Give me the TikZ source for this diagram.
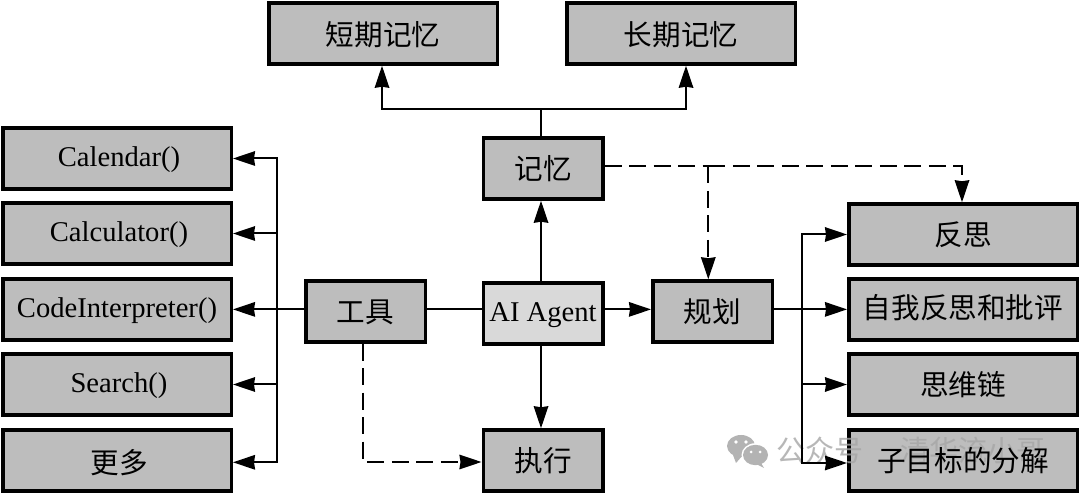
\documentclass[tikz,border=0pt]{standalone}
\usepackage{fontspec}
\setmainfont{Liberation Serif}
\newfontfamily\cjk{Noto Sans CJK SC}
\usetikzlibrary{arrows.meta,calc}
\definecolor{boxgray}{HTML}{BDBDBD}
\definecolor{lightbox}{HTML}{D9D9D9}
\definecolor{markgray}{HTML}{A6A6A6}
\tikzset{
  wide/.style={draw=black,line width=3.5pt,fill=boxgray,minimum width=228.5pt,minimum height=61pt,inner sep=0pt,font=\fontsize{28.6}{31}\selectfont,text height=19pt,text depth=2pt},
  short/.style={wide,minimum width=119.5pt},
  cjkwide/.style={wide,font=\cjk\fontsize{28.6}{31}\selectfont,text height=#1,text depth=2pt},
  cjkwide/.default=24pt,
  cjkshort/.style={cjkwide=#1,minimum width=119.5pt},
  cjkshort/.default=24pt,
  cjktext/.style={font=\cjk\fontsize{28.6}{31}\selectfont,inner sep=0pt,text height=24pt,text depth=2pt},
  conn/.style={line width=2pt,-{Stealth[length=22pt,width=14.5pt,inset=1pt]}},
  plain/.style={line width=2pt},
  dashconn/.style={conn,dash pattern=on 17pt off 7.5pt},
  dashplain/.style={plain,dash pattern=on 17pt off 7.5pt},
  markstyle/.style={text=markgray,font=\cjk\fontsize{29}{31}\selectfont,anchor=west,inner sep=0pt,opacity=.8}
}
\begin{document}
\begin{tikzpicture}[x=1pt,y=-1pt]
\useasboundingbox (0,0) rectangle (1080,494);
\fill[white] (0,0) rectangle (1080,494);
% boxes
\node[cjkwide=27pt] (stm) at (383,33.5) {短期记忆};
\node[cjkwide=27pt] (ltm) at (681,33.5) {长期记忆};
\node[cjkshort] (mem) at (543,168.5) {记忆};
\node[wide] (cal) at (117,158.5) {\hspace*{4pt}Calendar()};
\node[wide] (calc) at (117,233.5) {\hspace*{4pt}Calculator()};
\node[wide] (code) at (117,309.5) {CodeInterpreter()};
\node[wide] (search) at (117,384.5) {\hspace*{4pt}Search()};
\node[cjkwide=28pt] (more) at (117,460.5) {\hspace*{5pt}更多};
\node[cjkshort] (tool) at (365.5,311.5) {工具};
\node[short,fill=lightbox] (agent) at (543,313.5) {AI Agent};
\node[cjkshort] (plan) at (712.5,311.5) {规划};
\node[cjkshort] (exec) at (543,460.5) {执行};
\node[cjkwide] (refl) at (963,234.5) {反思};
\node[cjkwide=20pt] (self) at (963,309.5) {自我反思和批评};
\node[cjkwide] (cot) at (963,384.5) {思维链};
\node[wide] (sub) at (963,460.5) {};
% watermark, under the last box text and the connectors
\fill[markgray!85] (741,446) ellipse (14pt and 11pt);
\fill[markgray!85] (733,455) -- (736,463) -- (743,455) -- cycle;
\fill[white] (755.5,455) ellipse (14pt and 11.8pt);
\fill[markgray!85] (755.5,455) ellipse (12.5pt and 10.2pt);
\fill[markgray!85] (761,463) -- (764,468) -- (756,464) -- cycle;
\fill[white] (736,442) circle (1.8pt) (746,442) circle (1.8pt) (751,452) circle (1.5pt) (760,452) circle (1.5pt);
\node[markstyle] (mark1) at (776,450) {公众号};
\node[markstyle] (mark2) at (900,450) {清华流小哥};
\node[cjktext] (subtext) at (sub) {子目标的分解};
% junctions
\coordinate (mj) at (541,109);
\coordinate (tj) at (277.3,309.4);
\coordinate (pj) at (802.3,309.4);
\coordinate (dj) at (708.3,166.5);
% memory
\draw[plain] (mem.north -| mj) -- (mj);
\draw[conn] (mj) -| (stm.south -| 382,0);
\draw[conn] (mj) -| (ltm.south -| 686,0);
% agent links
\draw[conn] (agent.north -| mj) -- (mem.south -| mj);
\draw[conn] (agent.south -| mj) -- (exec.north -| mj);
\draw[conn] (agent.east |- pj) -- (plan.west |- pj);
\draw[plain] (agent.west |- tj) -- (tool.east |- tj);
% tools
\draw[plain] (tool.west |- tj) -- (tj);
\draw[conn] (tj) -- (code.east |- tj);
\draw[conn] (tj) |- (cal.east);
\draw[conn] (tj) |- (calc.east);
\draw[conn] (tj) |- (search.east);
\draw[conn] (tj) |- (more.east |- 0,462.3);
% plan
\draw[conn] (plan.east |- pj) -- (self.west |- pj);
\draw[conn] (pj) |- (refl.west);
\draw[conn] (pj) |- (cot.west);
\draw[conn] (pj) |- (sub.west |- 0,463);
% dashed
\draw[dashplain] (mem.east |- dj) -- (dj);
\draw[dashconn] (dj) -- (plan.north -| dj);
\draw[dashconn] (dj) -- (962,166.5) -- (refl.north -| 962,0);
\draw[dashconn] (tool.south -| 363,0) |- (exec.west |- 0,462);
\end{tikzpicture}
\end{document}
